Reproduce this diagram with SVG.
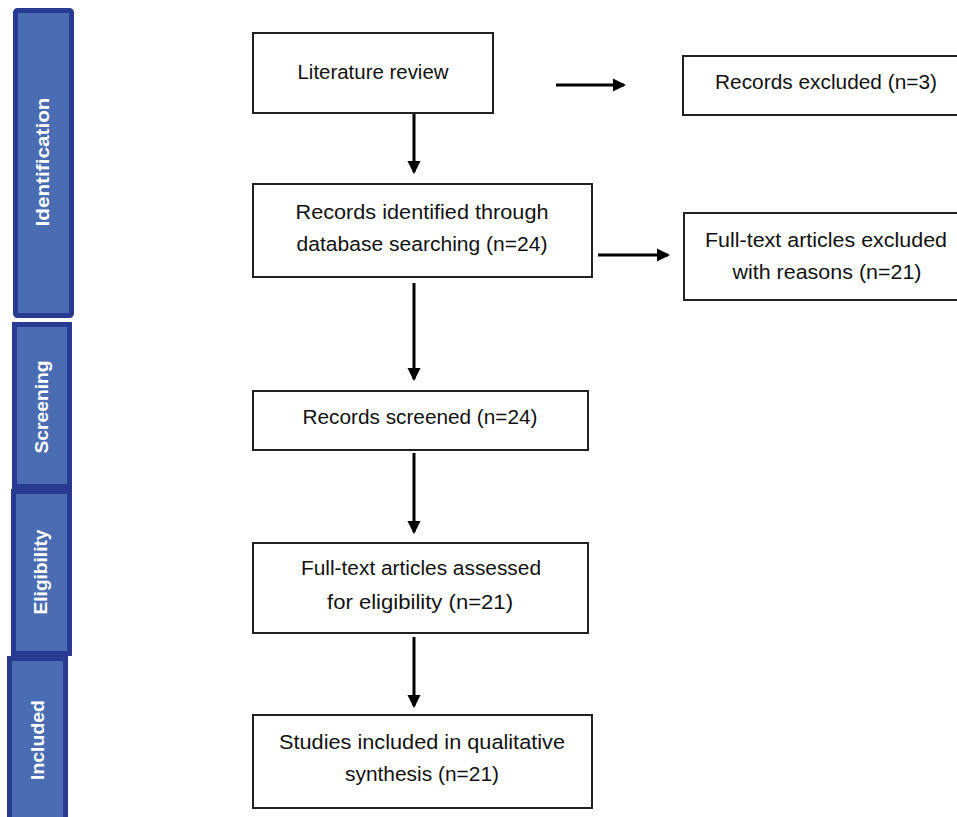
<svg xmlns="http://www.w3.org/2000/svg" width="957" height="817" viewBox="0 0 957 817">
<defs>
<style>
.box{fill:#fff;stroke:#222;stroke-width:2}
.t{font-family:"Liberation Sans",Arial,sans-serif;font-size:20.5px;fill:#111;text-anchor:middle}
.band{fill:#4a6cb3;stroke:#283a92;stroke-width:5}
.bl{font-family:"Liberation Sans",Arial,sans-serif;font-size:19px;font-weight:bold;fill:#fff;text-anchor:middle}
.c{stroke:#000;stroke-width:3;fill:none}
</style>
<marker id="ah" markerWidth="4.5" markerHeight="4.5" refX="3.8" refY="2.25" orient="auto" markerUnits="strokeWidth">
<path d="M0,0 L4.5,2.25 L0,4.5 Z" fill="#000"/>
</marker>
</defs>
<rect width="957" height="817" fill="#fff"/>
<g id="band-identification">
<rect class="band" x="15.5" y="10.5" width="56" height="305" rx="2"/>
<text class="bl" transform="translate(49,162) rotate(-90)" textLength="129" lengthAdjust="spacingAndGlyphs">Identification</text>
</g>
<g id="band-screening">
<rect class="band" x="14.5" y="324.5" width="55" height="162"/>
<text class="bl" transform="translate(48,407) rotate(-90)" textLength="93" lengthAdjust="spacingAndGlyphs">Screening</text>
</g>
<g id="band-eligibility">
<rect class="band" x="13.5" y="491.5" width="56" height="162"/>
<text class="bl" transform="translate(47,572) rotate(-90)" textLength="85" lengthAdjust="spacingAndGlyphs">Eligibility</text>
</g>
<g id="band-included">
<rect class="band" x="9.5" y="658.5" width="56" height="165"/>
<text class="bl" transform="translate(44,740) rotate(-90)" textLength="80" lengthAdjust="spacingAndGlyphs">Included</text>
</g>
<g id="connectors">
<line class="c" x1="414" y1="113" x2="414" y2="172" marker-end="url(#ah)"/>
<line class="c" x1="556" y1="85" x2="624" y2="85" marker-end="url(#ah)"/>
<line class="c" x1="598" y1="255" x2="668" y2="255" marker-end="url(#ah)"/>
<line class="c" x1="414" y1="283" x2="414" y2="379" marker-end="url(#ah)"/>
<line class="c" x1="414" y1="453" x2="414" y2="532" marker-end="url(#ah)"/>
<line class="c" x1="414" y1="637" x2="414" y2="706" marker-end="url(#ah)"/>
</g>
<g id="literature-review">
<rect class="box" x="253" y="33" width="240" height="80"/>
<text class="t" x="373" y="79" textLength="151" lengthAdjust="spacingAndGlyphs">Literature review</text>
</g>
<g id="records-excluded">
<rect class="box" x="683" y="56" width="290" height="59"/>
<text class="t" x="826" y="89" textLength="222" lengthAdjust="spacingAndGlyphs">Records excluded (n=3)</text>
</g>
<g id="records-identified">
<rect class="box" x="253" y="184" width="339" height="93"/>
<text class="t" x="422" y="219" textLength="253" lengthAdjust="spacingAndGlyphs">Records identified through</text>
<text class="t" x="422" y="251" textLength="251" lengthAdjust="spacingAndGlyphs">database searching (n=24)</text>
</g>
<g id="fulltext-excluded">
<rect class="box" x="684" y="213" width="290" height="87"/>
<text class="t" x="826" y="247" textLength="242" lengthAdjust="spacingAndGlyphs">Full-text articles excluded</text>
<text class="t" x="827" y="279" textLength="189" lengthAdjust="spacingAndGlyphs">with reasons (n=21)</text>
</g>
<g id="records-screened">
<rect class="box" x="253" y="391" width="335" height="59"/>
<text class="t" x="420" y="424" textLength="235" lengthAdjust="spacingAndGlyphs">Records screened (n=24)</text>
</g>
<g id="fulltext-assessed">
<rect class="box" x="253" y="543" width="335" height="90"/>
<text class="t" x="421" y="575" textLength="240" lengthAdjust="spacingAndGlyphs">Full-text articles assessed</text>
<text class="t" x="420" y="609" textLength="186" lengthAdjust="spacingAndGlyphs">for eligibility (n=21)</text>
</g>
<g id="studies-included">
<rect class="box" x="253" y="715" width="339" height="93"/>
<text class="t" x="422" y="749" textLength="286" lengthAdjust="spacingAndGlyphs">Studies included in qualitative</text>
<text class="t" x="422" y="781" textLength="154" lengthAdjust="spacingAndGlyphs">synthesis (n=21)</text>
</g>
</svg>
